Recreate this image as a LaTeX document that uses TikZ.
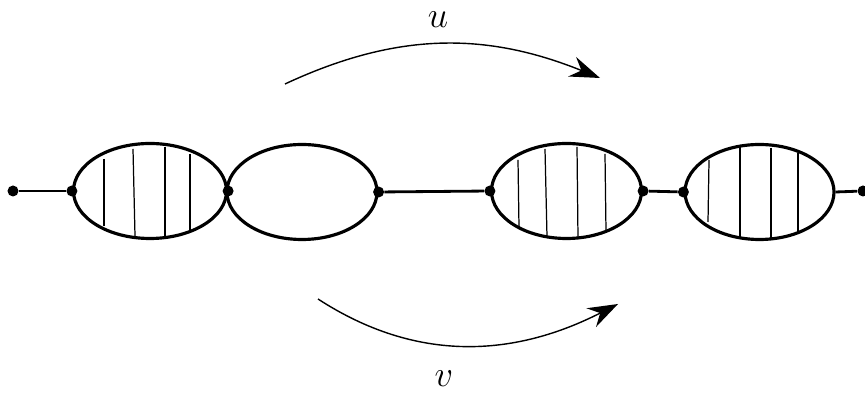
\documentclass[tikz,border=0pt]{standalone}
\usetikzlibrary{shapes.geometric,arrows.meta}

\begin{document}
\begin{tikzpicture}[
    blob/.style={ellipse,draw,line width=1.8pt,inner sep=0pt,minimum width=3.0cm,minimum height=1.9cm},
    dot/.style={circle,fill,inner sep=0pt,minimum size=0.22cm},
    bond/.style={line width=1.6pt},
    hatch/.style={line width=0.7pt},
    flow/.style={line width=0.8pt,-{Stealth[length=0.6cm,width=0.42cm,inset=0.2cm]}}
  ]
  \useasboundingbox (0,0) rectangle (17.3,7.92);

  % First hatched blob
  \begin{scope}[shift={(3.0,4.10)}]
    \node[blob,minimum width=3.06cm] (e1) at (0,0) {};
    \draw[hatch] (-0.92,0.64) -- (-0.92,-0.70);
    \draw[hatch] (-0.34,0.84) -- (-0.30,-0.90);
    \draw[hatch] (0.30,0.88) -- (0.30,-0.94);
    \draw[hatch] (0.80,0.74) -- (0.80,-0.80);
  \end{scope}

  % Empty blob
  \begin{scope}[shift={(6.04,4.08)}]
    \node[blob] (e2) at (0,0) {};
  \end{scope}

  % Third hatched blob
  \begin{scope}[shift={(11.33,4.10)}]
    \node[blob] (e3) at (0,0) {};
    \draw[hatch] (-0.97,0.62) -- (-0.95,-0.74);
    \draw[hatch] (-0.43,0.84) -- (-0.39,-0.92);
    \draw[hatch] (0.21,0.88) -- (0.23,-0.96);
    \draw[hatch] (0.77,0.74) -- (0.79,-0.82);
  \end{scope}

  % Fourth hatched blob
  \begin{scope}[shift={(15.19,4.08)}]
    \node[blob,minimum width=2.98cm] (e4) at (0,0) {};
    \draw[hatch] (-1.01,0.64) -- (-1.03,-0.60);
    \draw[hatch] (-0.39,0.90) -- (-0.39,-0.92);
    \draw[hatch] (0.23,0.88) -- (0.23,-0.92);
    \draw[hatch] (0.77,0.78) -- (0.77,-0.80);
  \end{scope}

  % Vertices and bonds
  \node[dot] (p0) at (0.26,4.10) {};
  \node[dot] (p1) at (e1.west) {};
  \node[dot] (p2) at (e1.east) {};
  \node[dot] (p3) at (e2.east) {};
  \node[dot] (p4) at (e3.west) {};
  \node[dot] (p5) at (e3.east) {};
  \node[dot] (p6) at (e4.west) {};
  \node[dot] (p7) at (17.26,4.10) {};
  \draw[bond] (p0) -- (p1);
  \draw[bond] (p3) -- (p4);
  \draw[bond] (p5) -- (p6);
  \draw[bond] (e4.east) -- (p7);

  % Flows u and v
  \coordinate (ua) at (5.7,6.24);
  \coordinate (ub) at (12.0,6.36);
  \coordinate (va) at (6.36,1.94);
  \coordinate (vb) at (12.36,1.84);
  \draw[flow] (ua) to[out=25,in=158] (ub);
  \draw[flow] (va) to[out=-33,in=-153] (vb);
  \node[inner sep=0pt] (ulabel) at (8.76,7.52) {\huge $u$};
  \node[inner sep=0pt] (vlabel) at (8.88,0.34) {\huge $v$};
\end{tikzpicture}
\end{document}
